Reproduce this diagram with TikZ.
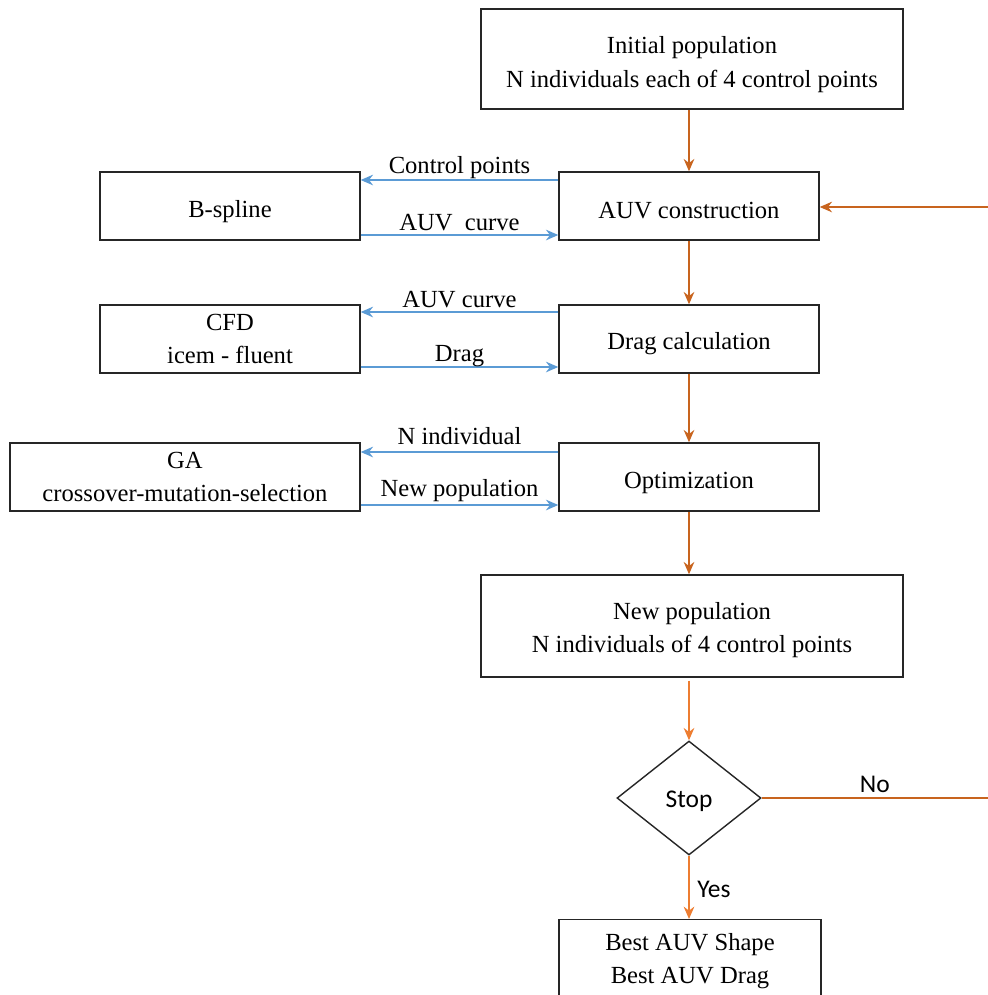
\documentclass[tikz,border=0pt]{standalone}
\usepackage{fontspec}
\setmainfont{Liberation Serif}
\newfontfamily\tnr{Liberation Serif}
\newfontfamily\calib{Carlito}
\usetikzlibrary{shapes.geometric,arrows.meta}
\definecolor{dorange}{HTML}{C8641E}
\definecolor{lorange}{HTML}{ED7D31}
\definecolor{lblue}{HTML}{5B9BD5}
\newcommand\lowr[1]{\rule{0pt}{#1}}
\begin{document}
\begin{tikzpicture}[x=0.02cm,y=-0.02cm,
  box/.style={draw=black!85,line width=0.8pt,rectangle,inner sep=0pt,align=center,font=\tnr\fontsize{14}{19}\selectfont},
  oarr/.style={draw=dorange,line width=1.4pt,-{Stealth[length=7pt,width=6pt]}},
  larr/.style={draw=lorange,line width=1.4pt,-{Stealth[length=7pt,width=6pt]}},
  barr/.style={draw=lblue,line width=1.4pt,-{Stealth[length=7pt,width=6pt]}},
  lab/.style={font=\tnr\fontsize{14}{17}\selectfont,inner sep=0pt,text=black},
  slab/.style={font=\calib\fontsize{14.5}{16}\selectfont,inner sep=0pt,text=black}]
\useasboundingbox (0,0) rectangle (988,995);
\begin{scope}
\clip (0,0) rectangle (988,995);
\node[box,minimum width=422*0.02cm,minimum height=100*0.02cm] (init) at (692,59) {\lowr{16pt}Initial population\\N individuals each of 4 control points};
\node[box,minimum width=260*0.02cm,minimum height=68*0.02cm] (auv) at (689,206) {\lowr{14.5pt}AUV construction};
\node[box,minimum width=260*0.02cm,minimum height=68*0.02cm] (bsp) at (230,206) {\lowr{15.5pt}B-spline};
\node[box,minimum width=260*0.02cm,minimum height=68*0.02cm] (drag) at (689,339) {\lowr{14.5pt}Drag calculation};
\node[box,minimum width=260*0.02cm,minimum height=68*0.02cm] (cfd) at (230,339) {CFD\\icem - fluent};
\node[box,minimum width=260*0.02cm,minimum height=68*0.02cm] (opt) at (689,477) {\lowr{16pt}Optimization};
\node[box,minimum width=350*0.02cm,minimum height=68*0.02cm] (ga) at (185,477) {GA\\crossover-mutation-selection};
\node[box,minimum width=422*0.02cm,minimum height=102*0.02cm] (newp) at (692,626) {\lowr{14pt}New population\\N individuals of 4 control points};
\node[draw=black!85,line width=0.8pt,diamond,aspect=1.263,minimum width=144*0.02cm,minimum height=114*0.02cm,inner sep=0pt,font=\calib\fontsize{14.5}{16}\selectfont] (stop) at (689,798) {\lowr{13pt}Stop};
\node[box,minimum width=262*0.02cm,minimum height=90*0.02cm,anchor=north] (best) at (690,919) {};
\node[lab,align=center,font=\tnr\fontsize{14}{19}\selectfont] (bestt) at (690,961) {Best AUV Shape\\Best AUV Drag};

\coordinate (ein) at (988,207);
\coordinate (eno) at (988,798);

\draw[oarr] (init.south -| auv.north) -- (auv.north);
\draw[oarr] (auv) -- (drag);
\draw[oarr] (drag) -- (opt);
\draw[oarr] (opt.south) -- (opt.south |- newp.north);
\draw[larr] ([yshift=-3*0.02cm]newp.south -| stop.north) -- (stop.north);
\draw[larr] (stop.south) -- (stop.south |- best.north) node[midway,right=4pt,yshift=-1pt,slab] (yes) {Yes};
\draw[dorange,line width=1.4pt] (stop.east) -- (eno) node[pos=0.5,above=2.5pt,slab] (no) {No};
\draw[oarr] (ein) -- (ein -| auv.east);

\draw[barr] ([yshift=26*0.02cm]auv.west) -- ([yshift=26*0.02cm]bsp.east) node[midway,above=0pt,lab] (l1) {Control points};
\draw[barr] ([yshift=-29*0.02cm]bsp.east) -- ([yshift=-29*0.02cm]auv.west) node[midway,above=1.5pt,lab] (l2) {AUV\ \ curve};
\draw[barr] ([yshift=27*0.02cm]drag.west) -- ([yshift=27*0.02cm]cfd.east) node[midway,above=1.5pt,lab] (l3) {AUV curve};
\draw[barr] ([yshift=-28*0.02cm]cfd.east) -- ([yshift=-28*0.02cm]drag.west) node[midway,above=-0.8pt,lab] (l4) {Drag};
\draw[barr] ([yshift=25*0.02cm]opt.west) -- ([yshift=25*0.02cm]ga.east) node[midway,above=3.5pt,lab] (l5) {N individual};
\draw[barr] ([yshift=-28*0.02cm]ga.east) -- ([yshift=-28*0.02cm]opt.west) node[midway,above=1pt,lab] (l6) {New population};
\end{scope}
\end{tikzpicture}
\end{document}
